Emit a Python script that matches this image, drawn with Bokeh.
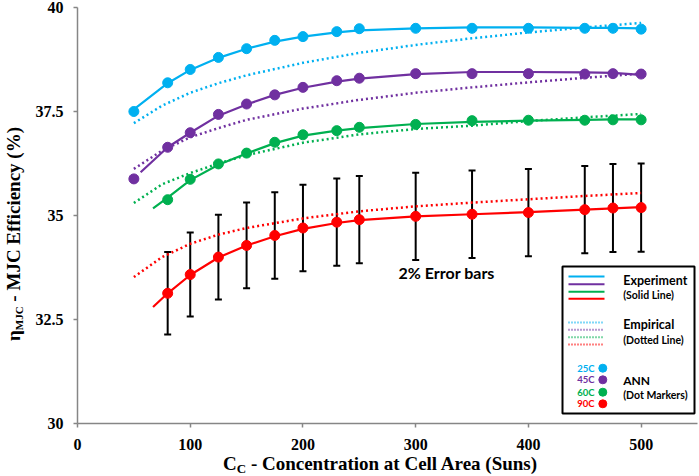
from bokeh.plotting import figure
from bokeh.models import Label, Whisker, TeeHead, ColumnDataSource, FixedTicker, Range1d, Div
from bokeh.layouts import row, column
from bokeh.embed import file_html
from bokeh.resources import INLINE

# ---------------- data ----------------
x_ann = [50, 80, 100, 125, 150, 175, 200, 230, 250, 300, 350, 400, 450, 475, 500]
x_ann_hot = [80, 100, 125, 150, 175, 200, 230, 250, 300, 350, 400, 450, 475, 500]
ann_25 = [37.50, 38.19, 38.51, 38.80, 39.01, 39.21, 39.30, 39.42, 39.49, 39.50, 39.50, 39.50, 39.50, 39.50, 39.48]
ann_45 = [35.88, 36.64, 36.99, 37.43, 37.68, 37.90, 38.08, 38.24, 38.30, 38.41, 38.41, 38.41, 38.40, 38.41, 38.40]
ann_60 = [35.38, 35.87, 36.24, 36.50, 36.76, 36.94, 37.04, 37.12, 37.19, 37.28, 37.29, 37.29, 37.30, 37.30]
ann_90 = [33.13, 33.58, 34.00, 34.28, 34.52, 34.70, 34.84, 34.90, 34.98, 35.03, 35.07, 35.14, 35.18, 35.19]
err_90 = [0.99, 1.01, 1.02, 1.03, 1.04, 1.04, 1.05, 1.05, 1.05, 1.05, 1.05, 1.05, 1.06, 1.06]

x_exp_25 = [50, 80, 100, 125, 150, 175, 200, 230, 250, 300, 350, 400, 450, 475, 500]
exp_25 = [37.55, 38.18, 38.50, 38.79, 39.01, 39.18, 39.30, 39.40, 39.45, 39.50, 39.52, 39.52, 39.51, 39.51, 39.50]
x_exp_45 = [56, 80, 100, 125, 150, 175, 200, 230, 250, 300, 350, 400, 450, 475, 500]
exp_45 = [36.04, 36.64, 36.99, 37.40, 37.67, 37.90, 38.07, 38.22, 38.29, 38.40, 38.45, 38.45, 38.44, 38.43, 38.38]
x_exp_60 = [67, 80, 100, 125, 150, 175, 200, 230, 250, 300, 350, 400, 450, 475, 500]
exp_60 = [35.17, 35.43, 35.85, 36.22, 36.49, 36.74, 36.92, 37.04, 37.10, 37.20, 37.25, 37.28, 37.30, 37.31, 37.31]
x_exp_90 = [67, 80, 100, 125, 150, 175, 200, 230, 250, 300, 350, 400, 450, 475, 500]
exp_90 = [32.80, 33.13, 33.57, 33.99, 34.28, 34.50, 34.68, 34.82, 34.89, 34.98, 35.03, 35.08, 35.14, 35.17, 35.20]

x_emp = [50, 75, 100, 125, 150, 200, 250, 300, 350, 400, 450, 500]
emp_25 = [37.22, 37.64, 37.95, 38.18, 38.37, 38.67, 38.91, 39.10, 39.26, 39.40, 39.52, 39.63]
emp_45 = [36.12, 36.56, 36.88, 37.10, 37.30, 37.57, 37.78, 37.95, 38.08, 38.20, 38.31, 38.41]
emp_60 = [35.30, 35.75, 36.02, 36.25, 36.45, 36.75, 36.95, 37.08, 37.16, 37.27, 37.36, 37.44]
emp_90 = [33.52, 34.00, 34.32, 34.54, 34.70, 34.93, 35.10, 35.22, 35.31, 35.39, 35.47, 35.54]

x_ticks = [0, 100, 200, 300, 400, 500]
y_ticks = [30, 32.5, 35, 37.5, 40]
y_tick_labels = ["30", "32.5", "35", "37.5", "40"]
temps = ["25C", "45C", "60C", "90C"]

C_BLUE = "#00B0F0"
C_PURPLE = "#7030A0"
C_GREEN = "#00B050"
C_RED = "#FF0000"
colors = [C_BLUE, C_PURPLE, C_GREEN, C_RED]

# ---------------- layout ----------------
YDIV_W = 30
W = 669
BL, BR, BT = 47, 2, 7
FH = 416
BB = 35
H = BT + FH + BB
XMAX = 550.0
FW = W - BL - BR

p = figure(width=W, height=H, output_backend="svg", toolbar_location=None,
           x_range=Range1d(0, XMAX), y_range=Range1d(30, 40),
           min_border_left=BL, min_border_right=BR, min_border_top=BT, min_border_bottom=BB)
p.outline_line_color = None
p.grid.visible = False
p.background_fill_color = "white"
p.margin = 0

FL_PAGE = YDIV_W + BL
FT_PAGE = BT
def sx(px):
    return (px - FL_PAGE) * XMAX / FW
def sy(py):
    return 40 - (py - FT_PAGE) * 10.0 / FH

for ax in (p.xaxis, p.yaxis):
    ax.axis_line_color = "#868686"
    ax.axis_line_width = 1.5
    ax.major_tick_line_color = "#868686"
    ax.major_tick_line_width = 1.5
    ax.major_tick_in = 0
    ax.major_tick_out = 4
    ax.minor_tick_line_color = None
    ax.major_label_text_font = "Liberation Serif"
    ax.major_label_text_font_style = "bold"
    ax.major_label_text_font_size = "16px"
    ax.major_label_text_color = "black"
p.xaxis.ticker = FixedTicker(ticks=x_ticks)
p.yaxis.ticker = FixedTicker(ticks=y_ticks)
p.yaxis.major_label_overrides = {t: l for t, l in zip(y_ticks, y_tick_labels)}
p.xaxis.major_label_standoff = 11
p.yaxis.major_label_standoff = 10

# empirical (dotted)
for ys, c in zip([emp_25, emp_45, emp_60, emp_90], colors):
    p.line(x_emp, ys, line_color=c, line_width=2.5, line_dash="2 3")

# experiment (solid)
for xs, ys, c in zip([x_exp_25, x_exp_45, x_exp_60, x_exp_90],
                     [exp_25, exp_45, exp_60, exp_90], colors):
    p.line(xs, ys, line_color=c, line_width=2.2)

# error bars
esrc = ColumnDataSource(dict(x=x_ann_hot,
                             upper=[v + e for v, e in zip(ann_90, err_90)],
                             lower=[v - e for v, e in zip(ann_90, err_90)]))
p.add_layout(Whisker(source=esrc, base="x", upper="upper", lower="lower",
                     line_color="black", line_width=2,
                     upper_head=TeeHead(size=7, line_color="black", line_width=2),
                     lower_head=TeeHead(size=7, line_color="black", line_width=2)))

# ANN markers
for xs, ys, c in zip([x_ann, x_ann, x_ann_hot, x_ann_hot],
                     [ann_25, ann_45, ann_60, ann_90], colors):
    p.scatter(xs, ys, size=10, fill_color=c, line_color=c)

p.add_layout(Label(x=sx(398), y=sy(271.7), text="2% Error bars", text_font="Lato",
                   text_font_style="bold", text_font_size="16px", text_color="black",
                   text_baseline="middle", text_align="left"))

# ---------------- legend ----------------
p.quad(left=[sx(562)], right=[sx(694)], top=[sy(266)], bottom=[sy(413)],
       fill_color="white", line_color="black", line_width=2)
sol_y = [276.0, 283.7, 291.3, 298.3]
dot_y = [322.0, 329.3, 336.7, 344.0]
for yy, c in zip(sol_y, colors):
    p.line([sx(568), sx(604)], [sy(yy), sy(yy)], line_color=c, line_width=2)
for yy, c in zip(dot_y, colors):
    p.line([sx(568), sx(604)], [sy(yy), sy(yy)], line_color=c, line_width=2, line_dash="1 2")

def ltext(px, py, t, size, color="black", align="left"):
    p.add_layout(Label(x=sx(px), y=sy(py), text=t, text_font="Lato", text_font_style="bold",
                       text_font_size=size, text_color=color, text_baseline="middle",
                       text_align=align))

ltext(622.7, 279.5, "Experiment", "12.5px")
ltext(622.7, 294.0, "(Solid Line)", "10.5px")
ltext(622.7, 324.3, "Empirical", "12.5px")
ltext(622.7, 339.3, "(Dotted Line)", "10.5px")
ltext(622.7, 380.0, "ANN", "12px")
ltext(622.7, 394.7, "(Dot Markers)", "10.5px")
ann_y = [367.7, 379.3, 391.7, 403.3]
for t, yy, c in zip(temps, ann_y, colors):
    ltext(594, yy, t, "9.5px", color=c, align="right")
p.scatter([sx(602.3)] * 4, [sy(v) for v in ann_y], size=8, fill_color=colors, line_color=colors)

# ---------------- axis titles (HTML, for subscripts) ----------------
ytitle_html = (
    '<div style="position:relative;width:30px;height:470px;">'
    '<div style="position:absolute;left:4px;top:341px;transform:rotate(-90deg);'
    'transform-origin:left top;white-space:nowrap;font-family:\'Liberation Serif\';'
    'font-weight:bold;font-size:19px;line-height:19px;color:black;">'
    'η<span style="font-size:11px;position:relative;top:3px;">MJC</span>'
    ' - MJC Efficiency (%)</div></div>'
)
xtitle_html = (
    '<div style="margin:0;padding:0 0 0 193px;white-space:nowrap;'
    'font-family:\'Liberation Serif\';font-weight:bold;font-size:19px;line-height:12px;color:black;">'
    'C<span style="font-size:13px;position:relative;top:3px;">C</span>'
    ' - Concentration at Cell Area (Suns)</div>'
)
ydiv = Div(text=ytitle_html, width=YDIV_W, height=470, margin=0)
xdiv = Div(text=xtitle_html, width=W, height=476 - H, margin=0)

layout = row(ydiv, column(p, xdiv, spacing=0), spacing=0)
open("out.html", "w").write(file_html(layout, INLINE))
